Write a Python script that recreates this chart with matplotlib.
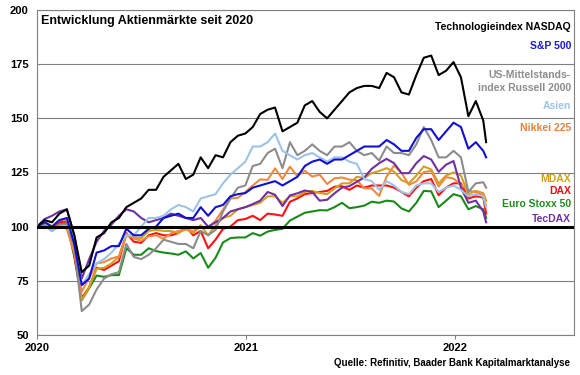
import matplotlib
matplotlib.use("Agg")
import matplotlib.pyplot as plt
import matplotlib.dates as mdates
import pandas as pd

plt.rcParams['font.family'] = ['Liberation Sans', 'DejaVu Sans']
plt.rcParams['font.weight'] = 'bold'

# 13-day grid from 2020-01-01 plus the last day shown (2022-02-24)
dates = list(pd.date_range("2020-01-01", periods=61, freq="13D")) + [pd.Timestamp("2022-02-24")]

nasdaq = [100, 103, 102, 106, 108, 96, 79, 82, 95, 97,
          102, 104, 109, 111, 113, 117, 117, 123, 126, 129,
          122, 124, 132, 127, 133, 132, 139, 142, 143, 146,
          152, 154, 155, 144, 146, 148, 156, 158, 153, 150,
          154, 158, 162, 164, 165, 165, 164, 171, 169, 162,
          161, 170, 178, 179, 170, 172, 176, 169, 151, 158,
          149, 139]
sp500 = [100, 102, 100, 103, 104, 92, 73, 76, 88, 89,
         91, 91, 99, 96, 96, 99, 100, 104, 105, 106,
         104, 104, 109, 105, 109, 110, 114, 115, 115.5, 118,
         119, 120, 121, 119, 121, 123, 128, 130, 131, 129,
         131, 131, 133, 135, 137, 137, 137, 140, 138, 135,
         135, 141, 145, 145, 140, 144, 148, 146, 136, 139,
         135, 132]
russell = [100, 101, 98, 101, 101, 91, 61, 64, 71, 76,
           78, 79, 92, 86, 85, 87, 90, 94, 93, 92,
           92, 90, 98, 96, 98.5, 107, 113, 118, 119, 128,
           129, 134, 136, 127, 139, 133, 135, 138, 135, 133,
           137, 137, 139, 135, 133, 134, 130.5, 137, 134, 134,
           133, 138, 146, 140, 132, 132, 135, 132, 116, 120,
           120.5, 118]
asien = [100, 102, 98, 100, 100, 95, 73, 78, 83, 85,
         88, 92, 96, 96, 100, 104, 104, 105, 108, 110,
         109, 107, 113, 114, 115, 120, 124, 127, 130, 137,
         137, 139, 143, 135, 133, 131, 133, 134, 132, 130,
         132, 132, 130, 129, 122, 121, 117, 121, 119, 116,
         115, 119, 120, 120, 116, 118, 119, 117, 114, 115,
         114, 109]
nikkei = [100, 101.6, 98.7, 100.7, 98.9, 87.7, 70, 76.4, 83, 83.6,
          85.3, 86.2, 96.6, 94.5, 93.5, 95.5, 96, 94.4, 96.9, 98,
          98.6, 98, 99.8, 99.3, 102.8, 107.9, 113, 113.3, 116, 119,
          121.8, 121.6, 126.9, 122, 127.7, 123.3, 125.8, 123.1, 124, 119.7,
          122.3, 122.7, 121.7, 121.4, 117.7, 117.6, 114.2, 123.1, 128.2, 124.9,
          119.3, 120.9, 125.2, 125.7, 118.5, 122.9, 122.2, 119.3, 116.6, 116,
          114.6, 109.8]
mdax = [100, 102.5, 100, 103, 103.5, 90, 66, 72, 80.5, 81,
        83, 86, 96, 95, 94.7, 98, 98.5, 98, 98, 97,
        99, 97, 100.7, 96, 100.7, 104, 105, 108, 109, 110,
        111, 114, 114, 111, 114, 114, 116, 116.5, 115.5, 115,
        117.6, 120, 120, 123, 122.5, 124.7, 125.7, 127, 125.4, 121.5,
        120, 123.6, 127.8, 126.4, 120, 123.6, 125, 123.6, 115, 116.5,
        115.5, 112]
dax = [100, 101.5, 99.7, 102, 102.5, 87, 67, 72, 81, 80,
       82, 84, 97, 93, 92.5, 96, 97, 96, 96, 97,
       100, 96, 98, 90, 94, 99, 100, 103, 103.5, 105,
       103, 106, 105.6, 105, 111.5, 113, 115, 115.5, 116, 116.5,
       118.4, 118.7, 117, 119, 118, 119, 119, 119, 118, 116,
       114, 118, 121, 122, 114.5, 118, 120, 120, 113, 114,
       113.5, 106]
estoxx = [100, 101, 98, 101.4, 101.5, 86, 66, 71.6, 77.4, 76.8,
          77.6, 77.6, 90, 87, 87, 90, 88.7, 88, 87.6, 87,
          88.6, 85.3, 87.8, 81, 85.6, 92.7, 94.7, 95, 95, 97,
          95.8, 97.7, 98.5, 99, 102.8, 104.6, 106.4, 107, 107.6, 107.5,
          109, 111, 108.5, 109, 109.7, 111.5, 111, 112, 111.6, 108.4,
          107, 111, 116.5, 116.3, 109, 112, 115, 114, 108, 109.5,
          108, 104]
tecdax = [100, 103.5, 105, 107, 108, 96, 76, 85, 93, 98,
          101, 105, 108, 107, 104, 102, 103, 104, 106, 105,
          104, 103, 104, 100, 102, 104, 107, 108, 109, 110.4,
          112, 116, 114.7, 109.5, 114.4, 115.4, 116.7, 116, 112, 112.4,
          115.4, 118, 118.7, 120.7, 122.7, 126.7, 129.3, 131.3, 129.3, 124.7,
          124.7, 129.3, 132.6, 131, 125.3, 128.6, 130.3, 118, 111, 112,
          107, 102]

# (label lines, values, line colour, text colour)
series = [
    ("Euro Stoxx 50", estoxx, "#1a8a1a", "#1e8c1e"),
    ("DAX", dax, "#ff1010", "#e81010"),
    ("MDAX", mdax, "#d4a020", "#c9a020"),
    ("Nikkei 225", nikkei, "#ee8a40", "#e8823a"),
    ("TecDAX", tecdax, "#7030a0", "#7030a0"),
    ("US-Mittelstands-\nindex Russell 2000", russell, "#8c8c8c", "#8c8c8c"),
    ("Asien", asien, "#9dc3e6", "#9dc3e6"),
    ("S&P 500", sp500, "#1010d0", "#1a1ac8"),
    ("Technologieindex NASDAQ", nasdaq, "#000000", "#000000"),
]

fig = plt.figure(figsize=(5.8, 3.75), dpi=100)
ax = fig.add_axes([0.064, 0.107, 0.926, 0.866])

for name, vals, col, tcol in series:
    ax.plot(dates, vals, color=col, lw=1.5, solid_joinstyle='round')

ax.axhline(100, color='black', lw=2.2, zorder=5)

ax.set_ylim(50, 200)
ax.set_yticks(range(50, 201, 25))
ax.set_xlim(pd.Timestamp("2020-01-01"), pd.Timestamp("2022-07-28"))
ax.xaxis.set_major_locator(mdates.YearLocator())
ax.xaxis.set_major_formatter(mdates.DateFormatter("%Y"))
ax.grid(axis='y', color='#808080', lw=0.8)
ax.set_axisbelow(True)
for s in ax.spines.values():
    s.set_color('#808080')
    s.set_linewidth(0.8)
ax.tick_params(axis='y', length=0, labelsize=8, pad=6)
ax.tick_params(axis='x', length=3, color='#808080', labelsize=8, pad=3)

ax.text(0.008, 0.966, "Entwicklung Aktienmärkte seit 2020", transform=ax.transAxes,
        fontsize=9, fontweight='bold', va='center', ha='left')

# label positions (axes fraction) on the right
label_y = {
    "Technologieindex NASDAQ": [0.948],
    "S&P 500": [0.889],
    "US-Mittelstands-\nindex Russell 2000": [0.80, 0.76],
    "Asien": [0.705],
    "Nikkei 225": [0.637],
    "MDAX": [0.48],
    "DAX": [0.443],
    "Euro Stoxx 50": [0.403],
    "TecDAX": [0.357],
}
for name, vals, col, tcol in series:
    for line, yy in zip(name.split("\n"), label_y[name]):
        ax.text(0.994, yy, line, transform=ax.transAxes, color=tcol,
                fontsize=7.5, fontweight='bold', ha='right', va='center')

fig.text(0.983, 0.032, "Quelle: Refinitiv, Baader Bank Kapitalmarktanalyse",
         fontsize=7, fontweight='bold', ha='right', va='center')

fig.savefig("out.png", dpi=100)
